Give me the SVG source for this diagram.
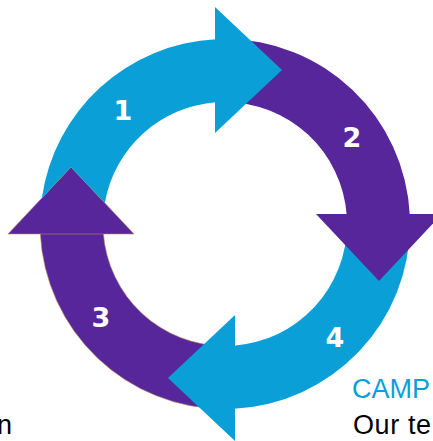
<svg xmlns="http://www.w3.org/2000/svg" width="433" height="441" viewBox="0 0 433 441">
  <style>
    .cyan { fill: #0aa0d7; }
    .purple { fill: #58269b; }
    .edge { stroke: #b98f5c; stroke-width: 0.6; }
    .num { font-family: "DejaVu Sans", Verdana, sans-serif; font-weight: bold; font-size: 27px; fill: #ffffff; text-anchor: middle; }
    .cap { font-family: "Liberation Sans", Arial, sans-serif; font-size: 27px; }
  </style>
  <defs>
    <path id="body" d="M -185,0 A 185 185 0 0 1 -9,-184.78 L -9,-121.67 A 122 122 0 0 0 -122,0 Z"/>
    <path id="body-notched" d="M -183.17,-25.98 A 185 185 0 0 1 -9,-184.78 L -9,-121.67 A 122 122 0 0 0 -120.17,-21.02 L -154,-57 Z"/>
    <path id="head" d="M -10,-217 L 57,-154 L -10,-91 Z"/>
  </defs>
  <rect width="433" height="441" fill="#ffffff"/>

  <g id="step3">
    <g class="purple edge" transform="translate(225,224) rotate(270)">
      <use href="#body"/>
      <use href="#head"/>
    </g>
    <text class="num" x="101" y="327">3</text>
  </g>

  <g id="step4">
    <g class="cyan" transform="translate(225,224) rotate(180)">
      <use href="#body"/>
      <use href="#head"/>
    </g>
    <text class="num" x="335" y="347">4</text>
  </g>

  <g id="step2">
    <g class="purple" transform="translate(225,224) rotate(90)">
      <use href="#body"/>
      <use href="#head"/>
    </g>
    <text class="num" x="352" y="147">2</text>
  </g>

  <g id="step1">
    <g class="cyan" transform="translate(225,224)">
      <use href="#body-notched"/>
      <use href="#head"/>
    </g>
    <text class="num" x="123" y="120">1</text>
  </g>

  <g id="labels">
    <text class="cap" x="352" y="398" fill="#0aa0d7">CAMP</text>
    <text class="cap" x="353" y="434" fill="#000000" letter-spacing="0.6">Our te</text>
    <text class="cap" x="-3" y="434" fill="#000000">n</text>
  </g>
</svg>
